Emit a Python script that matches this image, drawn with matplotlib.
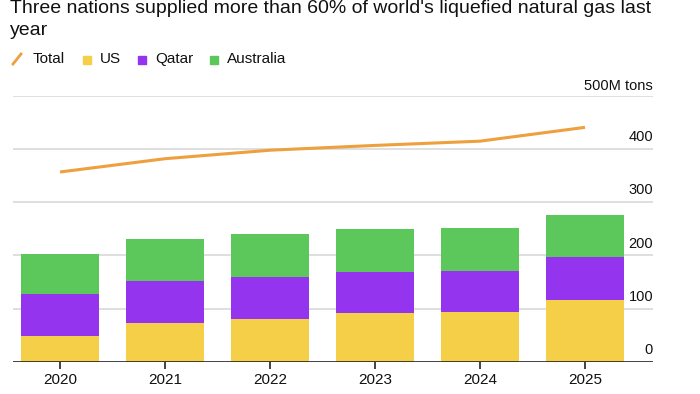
import matplotlib.pyplot as plt
from matplotlib.lines import Line2D
from matplotlib.patches import Rectangle

# values in million tons
years = ["2020", "2021", "2022", "2023", "2024", "2025"]
us = [48, 73, 80, 91, 93, 116]
qatar = [79, 79, 80, 78, 78, 81]
australia = [75, 79, 80, 80, 81, 79]
total = [357, 382, 398, 407, 415, 441]
y_ticks = [0, 100, 200, 300, 400]

YELLOW = "#F6CF48"
PURPLE = "#9434EE"
GREEN = "#5CC85B"
ORANGE = "#EE9F3E"
GRID = "#D9D9D9"
FONT = "Liberation Sans"

plt.rcParams["font.family"] = FONT

fig = plt.figure(figsize=(7, 3.94), dpi=100)
W, H = 700, 394
ax = fig.add_axes([13 / W, 1 - 361.7 / H, 640 / W, (361.7 - 96) / H])

x = list(range(len(years)))
qatar_bottom = us
aus_bottom = [u + q for u, q in zip(us, qatar)]

ax.bar(x, us, width=0.75, color=YELLOW, zorder=3)
ax.bar(x, qatar, width=0.75, bottom=qatar_bottom, color=PURPLE, zorder=3)
ax.bar(x, australia, width=0.75, bottom=aus_bottom, color=GREEN, zorder=3)
ax.plot(x, total, color=ORANGE, lw=2.2, zorder=4, solid_capstyle="butt")

ax.set_xlim(-0.448, 5.648)
ax.set_ylim(0, 500)

# gridlines drawn by hand so they sit behind the bars
for v in y_ticks[1:] + [500]:
    ax.axhline(v, color=GRID, lw=1.2, zorder=1)
ax.axhline(0, color="#222222", lw=1.2, zorder=5)

# y labels sit just above each gridline at the right edge
for v in y_ticks:
    ax.text(1.0, v + 9, str(v), transform=ax.get_yaxis_transform(),
            ha="right", va="bottom", fontsize=10.5, color="#111111")
ax.text(1.0, 506, "500M tons", transform=ax.get_yaxis_transform(),
        ha="right", va="bottom", fontsize=10.5, color="#111111")

ax.set_yticks([])
ax.set_xticks(x)
ax.set_xticklabels(years, fontsize=11, color="#111111")
ax.tick_params(axis="x", length=5, width=1.2, color="#222222", pad=3)
for s in ax.spines.values():
    s.set_visible(False)

# title
fig.text(10 / W, 1 - 0 / H,
         "Three nations supplied more than 60% of world's liquefied natural gas last\nyear",
         ha="left", va="top", fontsize=14, color="#111111", linespacing=1.35)

# legend
ly = 1 - 59 / H
fig.add_artist(Line2D([13 / W, 21 / W], [1 - 64 / H, 1 - 54 / H],
                      color=ORANGE, lw=2, transform=fig.transFigure))
fig.text(33 / W, ly, "Total", ha="left", va="center", fontsize=11, color="#111111")
for px, col, name in [(83, YELLOW, "US"), (138, PURPLE, "Qatar"), (210, GREEN, "Australia")]:
    fig.add_artist(Rectangle((px / W, 1 - 63.5 / H), 8 / W, 8 / H,
                             color=col, transform=fig.transFigure))
    fig.text((px + 17) / W, ly, name, ha="left", va="center", fontsize=11,
             color="#111111")

fig.savefig("out.png", dpi=100)
